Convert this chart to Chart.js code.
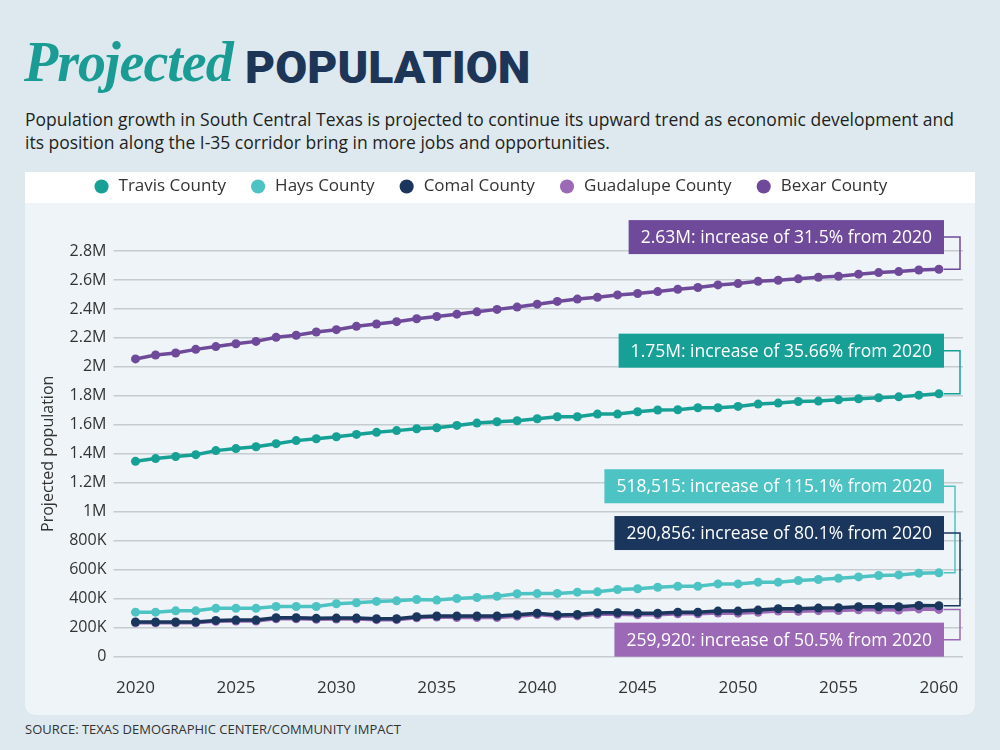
<!DOCTYPE html>
<html>
<head>
<meta charset="utf-8">
<script src="https://cdn.jsdelivr.net/npm/chart.js@4.4.1/dist/chart.umd.min.js"></script>
<style>
  body { margin:0; width:1000px; height:750px; background:#dde9ef; font-family:"Open Sans", sans-serif; position:relative; overflow:hidden; }
  .script { position:absolute; left:24px; top:30px; font-family:"Liberation Serif", serif; font-style:italic; font-weight:bold; font-size:56px; color:#1a9c94; letter-spacing:-1px; }
  .caps { position:absolute; left:245px; top:41px; font-family:Roboto, sans-serif; font-weight:900; font-size:45px; color:#1d3557; transform:scaleX(1.03); transform-origin:left top; }
  .intro { position:absolute; left:25px; top:108px; font-size:17.5px; line-height:23px; color:#231f20; }
  #panel { position:absolute; left:25px; top:172px; width:950px; height:543px; background:#eef4f7; border-radius:0 0 10px 10px; overflow:hidden; }
  .source { position:absolute; left:25px; top:720px; font-size:13px; color:#333; }
</style>
</head>
<body>
<div class="script">Projected</div>
<div class="caps">POPULATION</div>
<div class="intro">Population growth in South Central Texas is projected to continue its upward trend as economic development and<br>its position along the I-35 corridor bring in more jobs and opportunities.</div>
<div id="panel"><canvas id="grafico" width="950" height="543"></canvas></div>
<div class="source">SOURCE: TEXAS DEMOGRAPHIC CENTER/COMMUNITY IMPACT</div>
<script>
// values in thousands
const anos = [2020, 2021, 2022, 2023, 2024, 2025, 2026, 2027, 2028, 2029, 2030,
  2031, 2032, 2033, 2034, 2035, 2036, 2037, 2038, 2039, 2040,
  2041, 2042, 2043, 2044, 2045, 2046, 2047, 2048, 2049, 2050,
  2051, 2052, 2053, 2054, 2055, 2056, 2057, 2058, 2059, 2060];
const condados = ['Travis County', 'Hays County', 'Comal County', 'Guadalupe County', 'Bexar County'];
const travis = [1348, 1367, 1381, 1394, 1422, 1436, 1449, 1470, 1491, 1504, 1518,
  1534, 1548, 1560, 1573, 1580, 1596, 1612, 1621, 1628, 1642,
  1656, 1656, 1674, 1674, 1690, 1702, 1704, 1718, 1718, 1727,
  1743, 1750, 1761, 1764, 1773, 1780, 1787, 1793, 1805, 1814];
const hays = [307, 307, 316, 316, 333, 333, 333, 346, 346, 346, 365,
  372, 381, 385, 394, 390, 401, 408, 417, 434, 435,
  436, 445, 447, 463, 468, 479, 486, 486, 502, 502,
  514, 514, 525, 532, 541, 550, 560, 564, 576, 578];
const comal = [239, 239, 239, 239, 250, 252, 252, 268, 268, 264, 266,
  266, 261, 261, 275, 280, 280, 280, 280, 289, 300,
  288, 291, 303, 303, 300, 300, 307, 307, 314, 314,
  321, 330, 330, 335, 337, 344, 344, 344, 353, 351];
const guadalupe = [233, 233, 233, 234, 244, 246, 246, 261, 261, 258, 259,
  259, 255, 255, 268, 273, 270, 270, 270, 279, 290,
  278, 281, 292, 292, 289, 289, 295, 295, 301, 300,
  306, 314, 313, 317, 318, 323, 323, 322, 329, 326];
const bexar = [2055, 2082, 2096, 2121, 2140, 2160, 2176, 2204, 2218, 2241, 2257,
  2280, 2296, 2312, 2332, 2348, 2364, 2380, 2397, 2413, 2433,
  2452, 2468, 2481, 2497, 2507, 2520, 2536, 2548, 2566, 2575,
  2591, 2598, 2608, 2619, 2626, 2640, 2651, 2658, 2669, 2674];
const xTicks = [2020, 2025, 2030, 2035, 2040, 2045, 2050, 2055, 2060];
const cores = ['#16a096', '#4dc3c3', '#1b365d', '#9b69b5', '#6f4a9a'];

// callout boxes: which series, text, box centre (in y units), leader x offset
const notas = [
  { serie: 4, texto: '2.63M: increase of 31.5% from 2020', y: 2896, lead: 3 },
  { serie: 0, texto: '1.75M: increase of 35.66% from 2020', y: 2112, lead: 3 },
  { serie: 1, texto: '518,515: increase of 115.1% from 2020', y: 1176, lead: 8 },
  { serie: 2, texto: '290,856: increase of 80.1% from 2020', y: 853, lead: 3 },
  { serie: 3, texto: '259,920: increase of 50.5% from 2020', y: 117, lead: 3 }
];

const series = [travis, hays, comal, guadalupe, bexar];
const datasets = series.map(function(s, i) {
  return {
    label: condados[i],
    data: s,
    borderColor: cores[i],
    backgroundColor: cores[i],
    borderWidth: 3.5,
    pointRadius: 4.5,
    pointBorderWidth: 0,
    tension: 0
  };
});

// white band behind the legend, plus extra room under it
const fundoLegenda = {
  id: 'fundoLegenda',
  afterInit: function(chart) {
    const fitOrig = chart.legend.fit;
    chart.legend.fit = function() {
      fitOrig.call(this);
      this.height += 46;
    };
  },
  beforeDraw: function(chart) {
    const ctx = chart.ctx;
    ctx.save();
    ctx.fillStyle = '#ffffff';
    ctx.fillRect(0, 0, chart.width, 31);
    ctx.restore();
  }
};

const caixas = {
  id: 'caixas',
  afterDatasetsDraw: function(chart) {
    const ctx = chart.ctx;
    const area = chart.chartArea;
    const yScale = chart.scales.y;
    ctx.save();
    ctx.font = '17.5px "Open Sans"';
    notas.forEach(function(n) {
      const pts = chart.getDatasetMeta(n.serie).data;
      const ult = pts[pts.length - 1];
      const cy = yScale.getPixelForValue(n.y);
      const w = ctx.measureText(n.texto).width + 24;
      const right = area.right - 19;
      const h = 34;
      const lx = area.right - n.lead;
      ctx.strokeStyle = cores[n.serie];
      ctx.lineWidth = 1.5;
      ctx.beginPath();
      ctx.moveTo(right, cy);
      ctx.lineTo(lx, cy);
      ctx.lineTo(lx, ult.y);
      ctx.lineTo(ult.x + 5, ult.y);
      ctx.stroke();
      ctx.fillStyle = cores[n.serie];
      ctx.fillRect(right - w, cy - h / 2, w, h);
      ctx.fillStyle = '#ffffff';
      ctx.textAlign = 'right';
      ctx.textBaseline = 'middle';
      ctx.fillText(n.texto, right - 12, cy + 1);
    });
    ctx.restore();
  }
};

const ctxGrafico = document.getElementById('grafico').getContext('2d');
const lineChart = new Chart(ctxGrafico, {
  type: 'line',
  data: { labels: anos, datasets: datasets },
  options: {
    responsive: false,
    animation: false,
    layout: { padding: { top: 0, left: 10, right: 12, bottom: 4 } },
    plugins: {
      legend: {
        position: 'top',
        labels: {
          usePointStyle: true,
          pointStyle: 'circle',
          boxWidth: 17,
          boxHeight: 10,
          padding: 6,
          color: '#333',
          font: { family: 'Open Sans', size: 17 },
          generateLabels: function(chart) {
            const itens = Chart.defaults.plugins.legend.labels.generateLabels(chart);
            itens.forEach(function(it) {
              it.text = it.text + '    ';
            });
            return itens;
          }
        }
      },
      tooltip: { enabled: false }
    },
    scales: {
      x: {
        type: 'linear',
        min: 2019.3,
        max: 2061.2,
        afterBuildTicks: function(scale) {
          scale.ticks = xTicks.map(function(v) { return { value: v }; });
        },
        grid: { display: false },
        border: { display: false },
        ticks: {
          color: '#333',
          padding: 13,
          maxRotation: 0,
          font: { family: 'Open Sans', size: 17 },
          callback: function(v) { return String(v); }
        }
      },
      y: {
        min: 0,
        max: 2800,
        border: { display: false },
        grid: { color: '#c5ccd0', lineWidth: 1.5, tickLength: 8 },
        ticks: {
          stepSize: 200,
          color: '#333',
          padding: 7,
          font: { family: 'Open Sans', size: 16 },
          callback: function(v) {
            if (v === 0) return '0';
            if (v < 1000) return v + 'K';
            return (v / 1000) + 'M';
          }
        },
        title: {
          display: true,
          text: 'Projected population',
          color: '#333',
          font: { family: 'Open Sans', size: 16 }
        }
      }
    }
  },
  plugins: [fundoLegenda, caixas]
});
</script>
</body>
</html>
